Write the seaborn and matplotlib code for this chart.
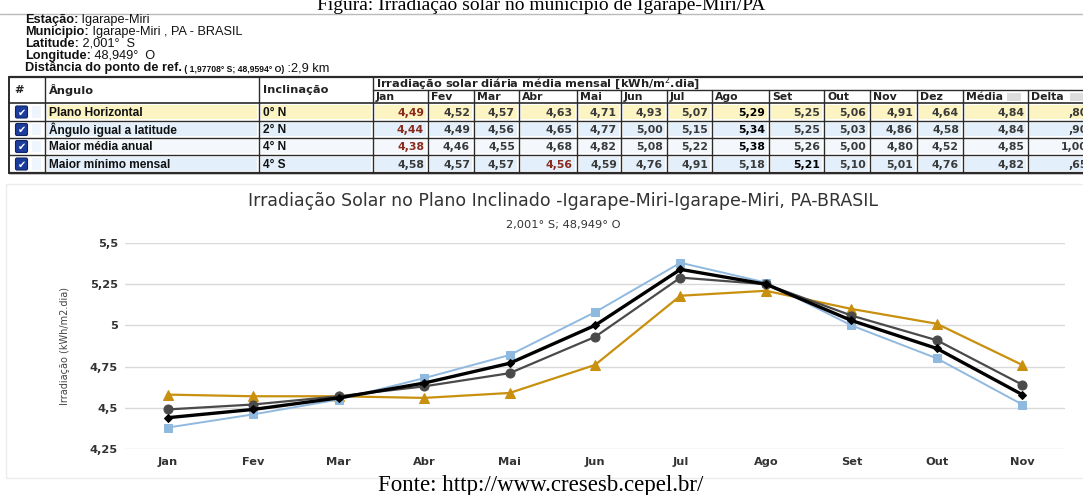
import matplotlib
matplotlib.use("Agg")
import matplotlib.pyplot as plt
import seaborn as sns
import numpy as np
import pandas as pd
from matplotlib.patches import Rectangle, FancyBboxPatch

# ---------------- data ----------------
fig_title = "Figura: Irradiação solar no município de Igarape-Miri/PA"
fonte_text = "Fonte: http://www.cresesb.cepel.br/"

info_labels = ["Estação:", "Municipio:", "Latitude:", "Longitude:"]
info_values = [" Igarape-Miri", " Igarape-Miri , PA - BRASIL", " 2,001°  S", " 48,949°  O"]
dist_label = "Distância do ponto de ref."
dist_coords = " ( 1,97708° S; 48,9594° O)"
dist_value = " :2,9 km"

table_months = ["Jan", "Fev", "Mar", "Abr", "Mai", "Jun", "Jul", "Ago", "Set", "Out", "Nov", "Dez"]
table_angles = ["Plano Horizontal", "Ângulo igual a latitude", "Maior média anual", "Maior mínimo mensal"]
table_incl = ["0° N", "2° N", "4° N", "4° S"]
tab_plano = [4.49, 4.52, 4.57, 4.63, 4.71, 4.93, 5.07, 5.29, 5.25, 5.06, 4.91, 4.64]
tab_latitude = [4.44, 4.49, 4.56, 4.65, 4.77, 5.00, 5.15, 5.34, 5.25, 5.03, 4.86, 4.58]
tab_media = [4.38, 4.46, 4.55, 4.68, 4.82, 5.08, 5.22, 5.38, 5.26, 5.00, 4.80, 4.52]
tab_minimo = [4.58, 4.57, 4.57, 4.56, 4.59, 4.76, 4.91, 5.18, 5.21, 5.10, 5.01, 4.76]
tab_media_anual = [4.84, 4.84, 4.85, 4.82]
tab_delta = [0.80, 0.90, 1.00, 0.65]

chart_title = "Irradiação Solar no Plano Inclinado -Igarape-Miri-Igarape-Miri, PA-BRASIL"
chart_subtitle = "2,001° S; 48,949° O"
chart_ylabel = "Irradiação (kWh/m2.dia)"
chart_months = ["Jan", "Fev", "Mar", "Abr", "Mai", "Jun", "Jul", "Ago", "Set", "Out", "Nov"]
chart_plano = [4.49, 4.52, 4.57, 4.63, 4.71, 4.93, 5.29, 5.25, 5.06, 4.91, 4.64]
chart_latitude = [4.44, 4.49, 4.56, 4.65, 4.77, 5.00, 5.34, 5.25, 5.03, 4.86, 4.58]
chart_media = [4.38, 4.46, 4.55, 4.68, 4.82, 5.08, 5.38, 5.26, 5.00, 4.80, 4.52]
chart_minimo = [4.58, 4.57, 4.57, 4.56, 4.59, 4.76, 5.18, 5.21, 5.10, 5.01, 4.76]
y_ticks = [4.25, 4.5, 4.75, 5.0, 5.25, 5.5]
y_ticklabels = ["4,25", "4,5", "4,75", "5", "5,25", "5,5"]

# ---------------- figure ----------------
sns.set_style("white")
plt.rcParams["font.family"] = ["DejaVu Sans"]

W, H = 1083, 495
fig = plt.figure(figsize=(W / 100, H / 100), dpi=100)
fig.patch.set_facecolor("white")


def fmt(v):
    return f"{v:.2f}".replace(".", ",")


# ---------- chart (seaborn) ----------
ax_l, ax_r, ax_t, ax_b = 125, 1065, 243, 449
ax = fig.add_axes([ax_l / W, 1 - ax_b / H, (ax_r - ax_l) / W, (ax_b - ax_t) / H])
xpos = np.arange(len(chart_months))
series = [
    ("Maior mínimo mensal", chart_minimo, "#c8900e", "^", 1.6, 6.5),
    ("Maior média anual", chart_media, "#90b9e0", "s", 1.4, 6),
    ("Plano Horizontal", chart_plano, "#4a4a4a", "o", 1.6, 6.5),
    ("Ângulo igual a latitude", chart_latitude, "#000000", "D", 2.4, 4.5),
]
for name, vals, col, mk, lw, ms in series:
    df = pd.DataFrame({"x": xpos, "y": vals})
    sns.lineplot(data=df, x="x", y="y", ax=ax, color=col, marker=mk, linewidth=lw,
                 markersize=ms, markeredgecolor=col, markerfacecolor=col, sort=False,
                 legend=False, zorder=3)
ax.set_xlim(-0.5, len(chart_months) - 0.5)
ax.set_ylim(4.25, 5.5)
ax.set_yticks(y_ticks)
ax.set_yticklabels(y_ticklabels)
ax.set_xticks(xpos)
ax.set_xticklabels(chart_months)
ax.tick_params(axis="both", length=0, labelsize=8.2, labelcolor="#333333")
ax.tick_params(axis="y", pad=5)
ax.tick_params(axis="x", pad=6)
for lab in ax.get_xticklabels() + ax.get_yticklabels():
    lab.set_fontweight("semibold")
ax.grid(axis="y", color="#d9d9d9", linewidth=1)
ax.grid(axis="x", visible=False)
for s in ax.spines.values():
    s.set_visible(False)
ax.set_xlabel("")
ax.set_ylabel(chart_ylabel, fontsize=7, color="#444444", labelpad=14)
ax.set_facecolor("none")

# ---------- overlay in pixel coordinates ----------
ov = fig.add_axes([0, 0, 1, 1], zorder=5)
ov.set_xlim(0, W)
ov.set_ylim(H, 0)
ov.axis("off")

serif = ["Liberation Serif", "DejaVu Serif"]
sans = ["Liberation Sans", "DejaVu Sans"]

# figure title (cut at top, as in the screenshot) and separator
ov.text(541, 10.5, fig_title, fontsize=14, family=serif, ha="center", va="baseline", color="#000")
ov.plot([0, W], [13.5, 13.5], color="#bbbbbb", lw=1)

# info lines
iy = [20, 32, 44, 56]
ifs = 9.2
for y, lab, val in zip(iy, info_labels, info_values):
    t = ov.text(25, y, lab, fontsize=ifs, family=sans, fontweight="bold", va="center", color="#111")
    ov.annotate(val, xycoords=t, xy=(1, 0.5), va="center", fontsize=ifs, family=sans, color="#111")
t = ov.text(25, 68, dist_label, fontsize=ifs, family=sans, fontweight="bold", va="center", color="#111")
t2 = ov.annotate(dist_coords, xycoords=t, xy=(1, 0.35), va="center", fontsize=6.2, family=sans,
                 fontweight="bold", color="#111")
ov.annotate(dist_value, xycoords=t2, xy=(1, 0.62), va="center", fontsize=ifs, family=sans, color="#111")

# ---------- table ----------
col_x = [9, 45, 259, 373, 428, 474, 519, 577, 621, 667, 712, 769, 824, 870, 917, 963, 1028, 1110]
top, sub, hdr_bot = 77, 90, 103
row_y = [103, 121, 138, 155, 173]
row_fill = ["#fcf4c2", "#e3effa", "#f4f8fc", "#e3effa"]
tab_rows = [tab_plano, tab_latitude, tab_media, tab_minimo]

# cell fills
for r in range(4):
    y0, y1 = row_y[r], row_y[r + 1]
    for c in range(1, len(col_x) - 1):
        x0, x1 = col_x[c], col_x[c + 1]
        ov.add_patch(Rectangle((x0 + 2, y0 + 2), x1 - x0 - 4, y1 - y0 - 4,
                               facecolor=row_fill[r], edgecolor="none", zorder=1))
    # checkbox
    cy = (y0 + y1) / 2
    ov.add_patch(FancyBboxPatch((16, cy - 5.5), 11, 11, boxstyle="round,pad=0.5,rounding_size=1.5",
                                facecolor="#1d3d9c", edgecolor="#0f2466", lw=0.8, zorder=3))
    ov.text(21.5, cy + 0.5, "✔", fontsize=7, color="white", ha="center", va="center", zorder=4)
    ov.add_patch(Rectangle((32, y0 + 3), 9, y1 - y0 - 6, facecolor="#eef5fc", edgecolor="none", zorder=1))

# grid lines
lc = "#2b2b2b"
ov.plot([col_x[0], W], [top, top], color=lc, lw=1.6, zorder=5)
ov.plot([col_x[3], W], [sub, sub], color=lc, lw=1, zorder=5)
for y in row_y:
    ov.plot([col_x[0], W], [y, y], color=lc, lw=1.2 if y == row_y[0] else 1, zorder=5)
ov.plot([col_x[0], W], [row_y[-1], row_y[-1]], color=lc, lw=1.6, zorder=5)
for i, x in enumerate(col_x[:-1]):
    if i <= 3:
        ov.plot([x, x], [top, row_y[-1]], color=lc, lw=1.4 if i == 0 else 1, zorder=5)
    else:
        ov.plot([x, x], [sub, row_y[-1]], color=lc, lw=1, zorder=5)

# header texts
hfs = 8.2
ov.text(14, (top + hdr_bot) / 2, "#", fontsize=hfs, fontweight="bold", va="center", color="#222")
ov.text(49, (top + hdr_bot) / 2, "Ângulo", fontsize=hfs, fontweight="bold", va="center", color="#222")
ov.text(263, (top + hdr_bot) / 2, "Inclinação", fontsize=hfs, fontweight="bold", va="center", color="#222")
ov.text(376, (top + sub) / 2 + 0.5, "Irradiação solar diária média mensal [kWh/m$^2$.dia]", fontsize=hfs,
        fontweight="bold", va="center", color="#222")
month_hdr = table_months + ["Média", "Delta"]
for c, m in enumerate(month_hdr):
    ov.text(col_x[c + 3] + 3, (sub + hdr_bot) / 2 + 0.5, m, fontsize=7.8, fontweight="bold",
            va="center", color="#222")
for cx in (col_x[15] + 44, col_x[16] + 42):
    ov.add_patch(Rectangle((cx, sub + 3), 14, 8, facecolor="#dddddd", edgecolor="none", zorder=2))

# row texts
for r in range(4):
    cy = (row_y[r] + row_y[r + 1]) / 2 + 0.5
    ov.text(49, cy, table_angles[r], fontsize=8.6, family=sans, fontweight="bold", va="center",
            color="#111", zorder=6)
    ov.text(263, cy, table_incl[r], fontsize=8.6, family=sans, fontweight="bold", va="center",
            color="#111", zorder=6)
    vals = tab_rows[r]
    vmin, vmax = min(vals), max(vals)
    for c, v in enumerate(vals):
        colr = "#8a2a1c" if v == vmin else ("#000000" if v == vmax else "#3a3a3a")
        ov.text(col_x[c + 4] - 4, cy, fmt(v), fontsize=7.8, fontweight="bold", ha="right",
                va="center", color=colr, zorder=6)
    ov.text(col_x[16] - 4, cy, fmt(tab_media_anual[r]), fontsize=7.8, fontweight="bold", ha="right",
            va="center", color="#3a3a3a", zorder=6)
    d = fmt(tab_delta[r])
    if d.startswith("0"):
        d = d[1:]
    ov.text(col_x[17] - 22, cy, d, fontsize=7.8, fontweight="bold", ha="right",
            va="center", color="#3a3a3a", zorder=6)

# chart panel frame, title, subtitle
ov.add_patch(Rectangle((6, 184), W, 294, facecolor="none", edgecolor="#ececec", lw=1, zorder=0))
ov.text(563, 201, chart_title, fontsize=12.5, ha="center", va="center", color="#333333")
ov.text(563, 225, chart_subtitle, fontsize=8.2, ha="center", va="center", color="#333333")

# source
ov.text(541, 486, fonte_text, fontsize=16.5, family=serif, ha="center", va="center", color="#000")

fig.savefig("out.png", dpi=100, facecolor="white")
